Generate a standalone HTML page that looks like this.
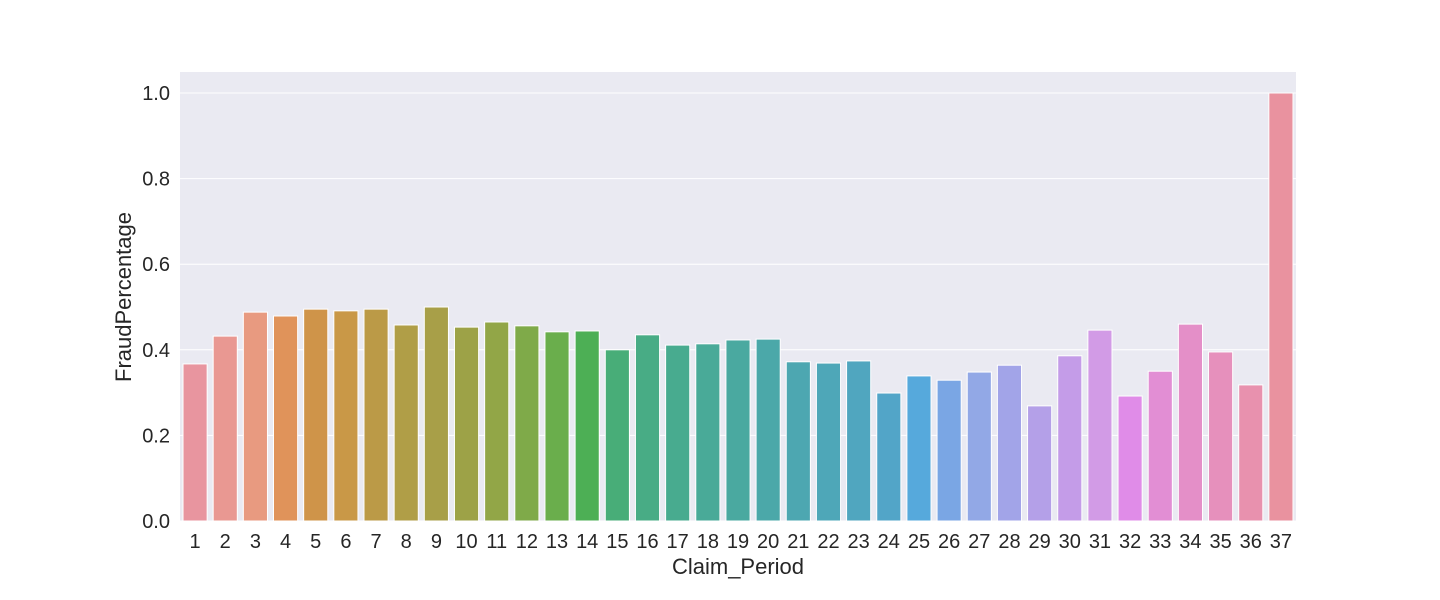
<!DOCTYPE html>
<html><head><meta charset="utf-8"><style>
body{margin:0;background:#fff;width:1440px;height:595px;overflow:hidden}
text{font-family:"Liberation Sans",sans-serif;fill:#262626}
</style></head><body>
<svg id="chart" width="1440" height="595">
<rect x="180" y="72" width="1116" height="449" fill="#eaeaf2"/>
<g id="grid"></g><g id="bars"></g><g id="xt"></g><g id="yt"></g>
<text x="738" y="574" text-anchor="middle" font-size="22">Claim_Period</text>
<text transform="translate(131,297) rotate(-90)" text-anchor="middle" font-size="22">FraudPercentage</text>
</svg>
<script>
const categories=[1,2,3,4,5,6,7,8,9,10,11,12,13,14,15,16,17,18,19,20,21,22,23,24,25,26,27,28,29,30,31,32,33,34,35,36,37];
const values=[0.367,0.432,0.488,0.479,0.495,0.491,0.495,0.458,0.5,0.453,0.465,0.456,0.442,0.444,0.4,0.435,0.411,0.414,0.423,0.425,0.372,0.369,0.374,0.299,0.339,0.329,0.348,0.364,0.269,0.386,0.446,0.292,0.35,0.46,0.395,0.318,1.0];
const yTicks=[0,0.2,0.4,0.6,0.8,1.0];
const yTickLabels=["0.0","0.2","0.4","0.6","0.8","1.0"];
const colors=["#e8959f","#e99892","#e89a80","#e0935a","#cf9449","#c99847","#bb9a47","#b09e47","#a89f48","#9da247","#92a647","#7faa49","#6aae4c","#4daf55","#48ad78","#48ac85","#48ab8f","#49aa98","#4aa9a0","#4ba8a9","#4da7b1","#4ea7b8","#50a6bf","#52a5c8","#56a9dc","#7aa6e4","#92a8e6","#a2a4e8","#b4a0e8","#c49ce8","#d29be6","#e08ce8","#e28ed4","#e48fc8","#e690bc","#e891ae","#e9929f"];
const NS="http://www.w3.org/2000/svg";
const x0=180,x1=1296,yBase=521,yTop=93;
const band=(x1-x0)/categories.length;
const xs=i=>x0+band*i;
const ys=v=>yBase-(yBase-yTop)*v;
function mk(t,a,p){const e=document.createElementNS(NS,t);for(const k in a)e.setAttribute(k,a[k]);document.getElementById(p).appendChild(e);return e;}
yTicks.forEach((v,i)=>{
 const l=mk('line',{x1:x0,x2:x1,y1:ys(v),y2:ys(v),stroke:'#fff','stroke-width':1},'grid');
 
 
 const t=mk('text',{x:170,y:ys(v)+7,'text-anchor':'end','font-size':20},'yt');
 t.textContent=yTickLabels[i];
 
 
});
categories.forEach((c,i)=>{
 const w=band*0.8;
 const r=mk('rect',{x:xs(i)+band*0.1,y:ys(values[i]),width:w,height:yBase-ys(values[i]),fill:colors[i],stroke:'#fff','stroke-width':1},'bars');
 
 
 const t=mk('text',{x:xs(i)+band/2,y:548,'text-anchor':'middle','font-size':20},'xt');
 t.textContent=c;
 
 
});
</script>
</body></html>
